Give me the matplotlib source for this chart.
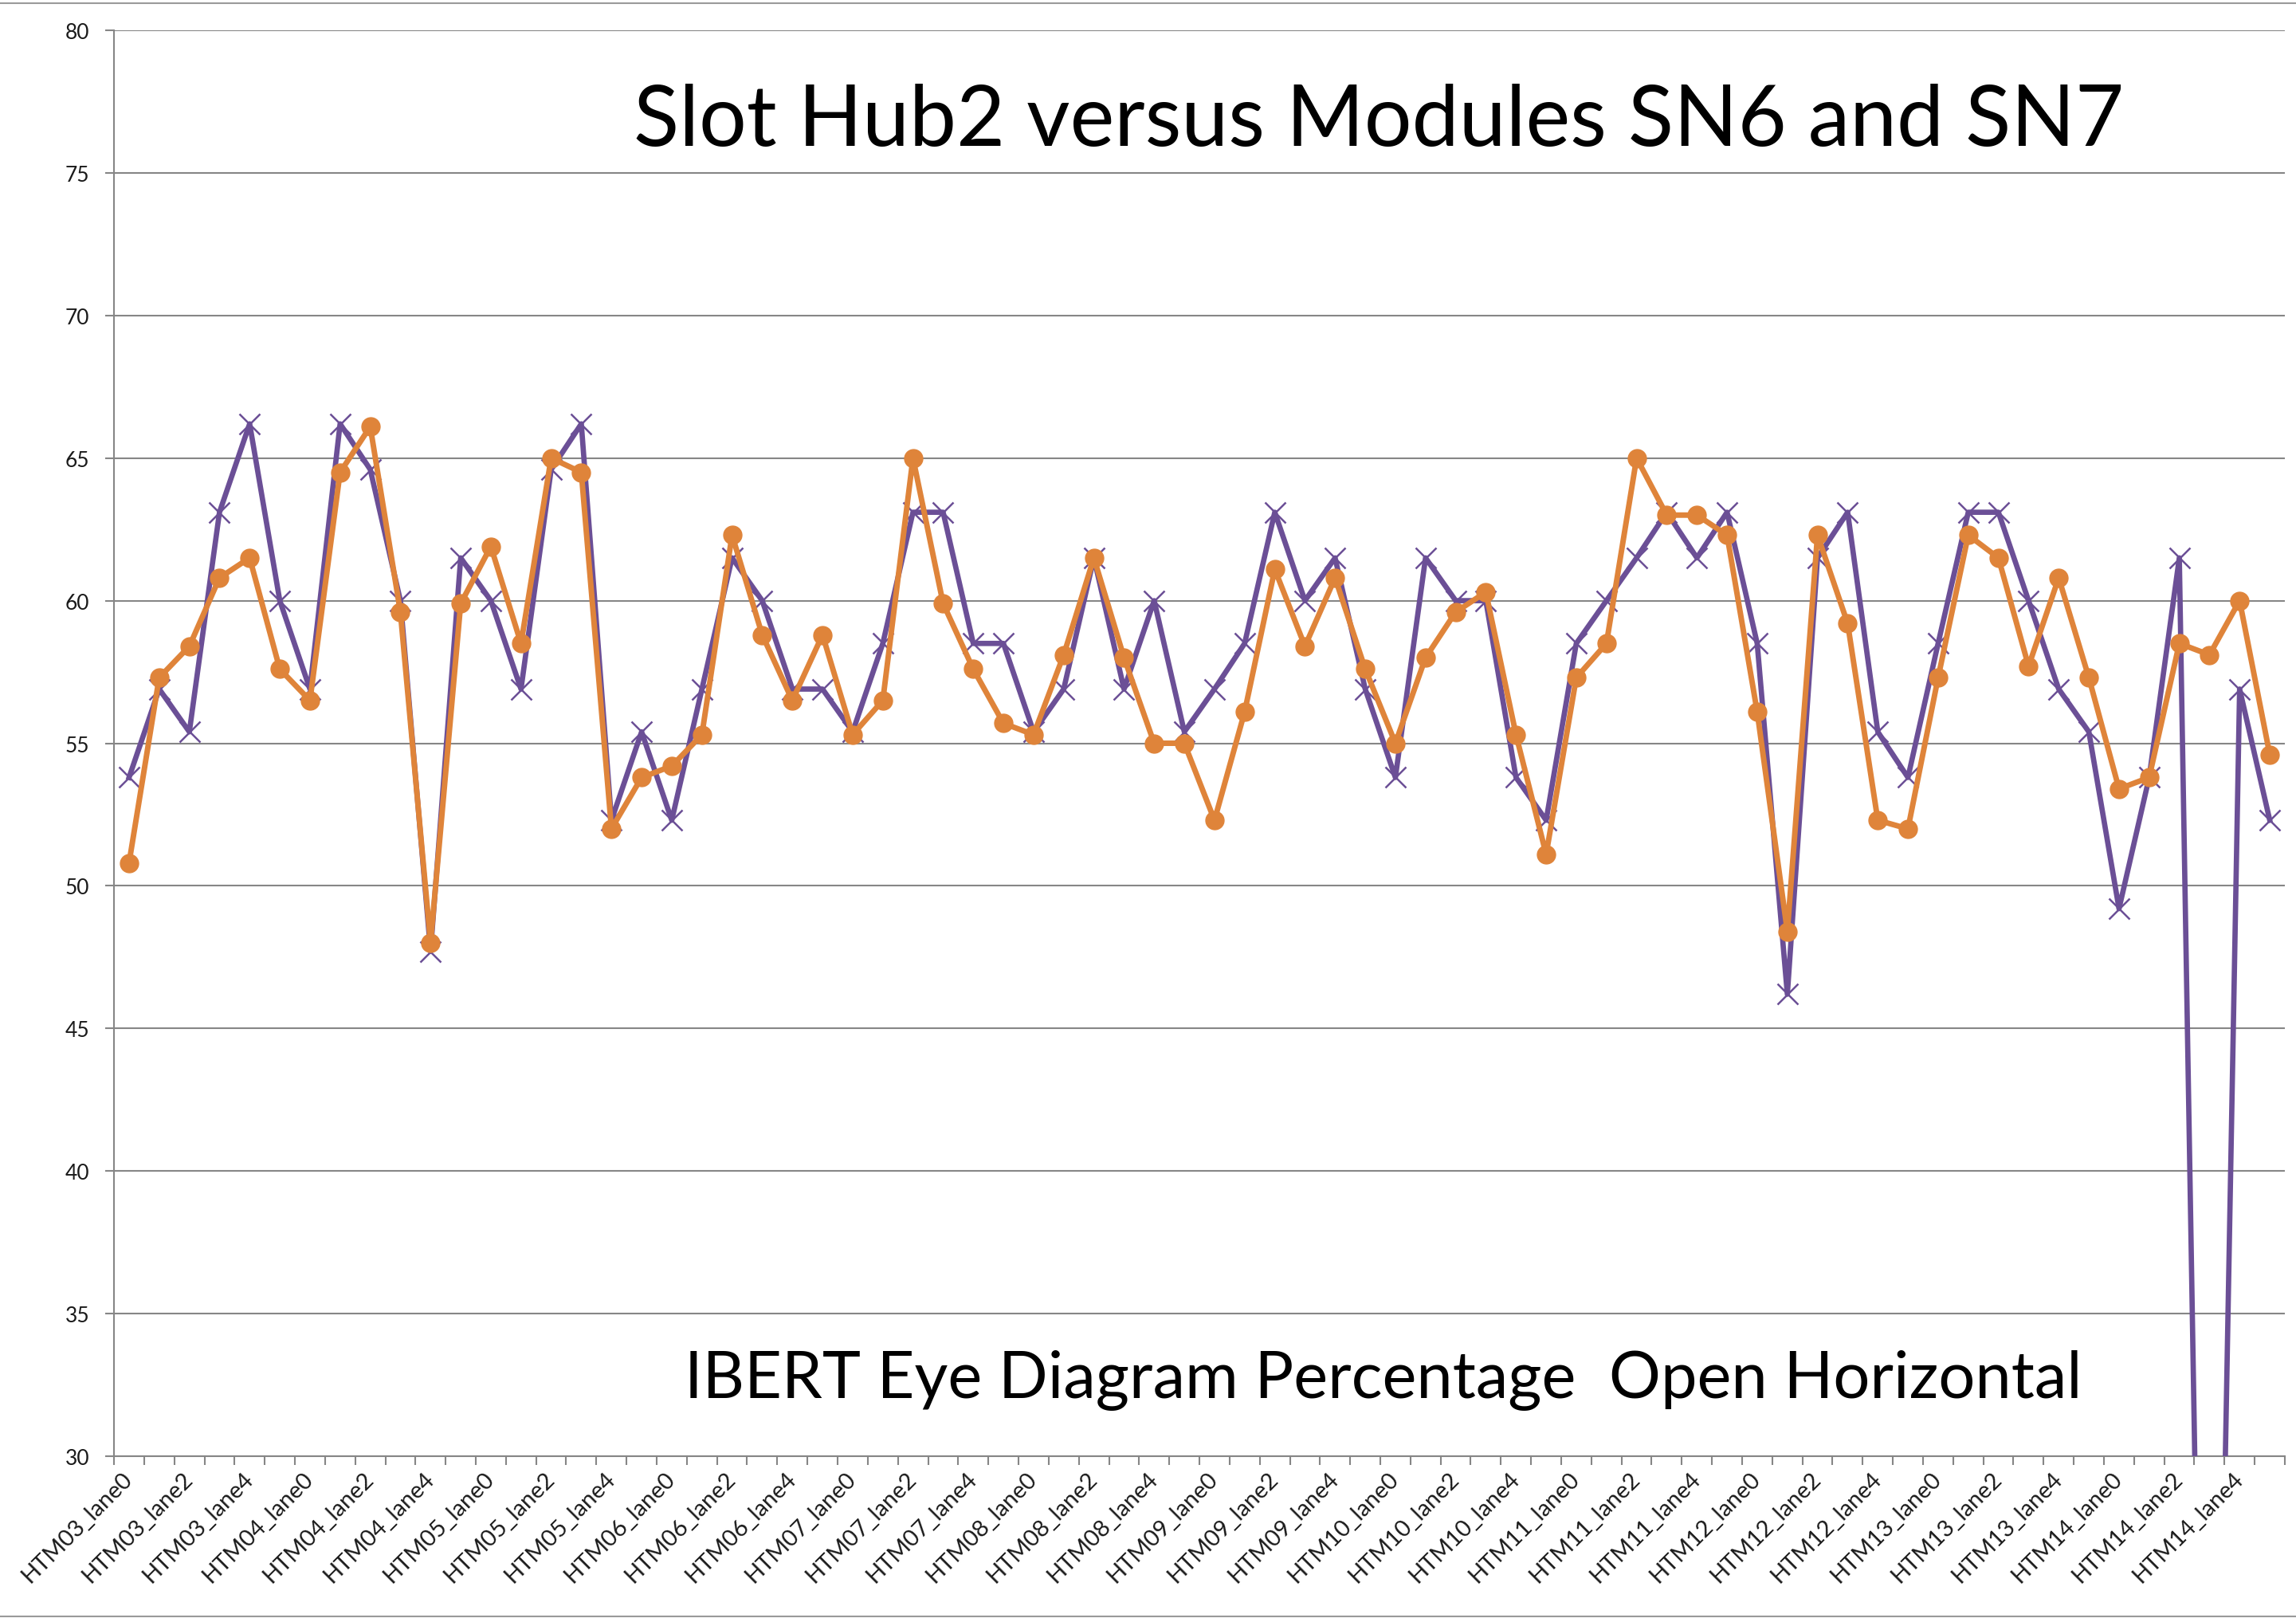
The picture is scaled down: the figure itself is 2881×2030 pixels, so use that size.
"""
Slot Hub2 versus modules SN6 and SN7: IBERT eye diagram horizontal opening
per HTM lane, redrawn as an Excel-style line chart.
"""

import matplotlib
matplotlib.use("Agg")
import matplotlib.pyplot as plt
import matplotlib.transforms as mtransforms
from matplotlib.lines import Line2D

modules = ["HTM03", "HTM04", "HTM05", "HTM06", "HTM07", "HTM08",
           "HTM09", "HTM10", "HTM11", "HTM12", "HTM13", "HTM14"]
lanes = ["lane0", "lane1", "lane2", "lane3", "lane4", "lane5"]

# purple series (x markers)
sn6_open = [
    53.8, 56.9, 55.4, 63.1, 66.2, 60.0, 56.9, 66.2, 64.6, 60.0, 47.7, 61.5,
    60.0, 56.9, 64.6, 66.2, 52.3, 55.4, 52.3, 56.9, 61.5, 60.0, 56.9, 56.9,
    55.4, 58.5, 63.1, 63.1, 58.5, 58.5, 55.4, 56.9, 61.5, 56.9, 60.0, 55.4,
    56.9, 58.5, 63.1, 60.0, 61.5, 56.9, 53.8, 61.5, 60.0, 60.0, 53.8, 52.3,
    58.5, 60.0, 61.5, 63.1, 61.5, 63.1, 58.5, 46.2, 61.5, 63.1, 55.4, 53.8,
    58.5, 63.1, 63.1, 60.0, 56.9, 55.4, 49.2, 53.8, 61.5, 0.0, 56.9, 52.3,
]

# orange series (circle markers)
sn7_open = [
    50.8, 57.3, 58.4, 60.8, 61.5, 57.6, 56.5, 64.5, 66.1, 59.6, 48.0, 59.9,
    61.9, 58.5, 65.0, 64.5, 52.0, 53.8, 54.2, 55.3, 62.3, 58.8, 56.5, 58.8,
    55.3, 56.5, 65.0, 59.9, 57.6, 55.7, 55.3, 58.1, 61.5, 58.0, 55.0, 55.0,
    52.3, 56.1, 61.1, 58.4, 60.8, 57.6, 55.0, 58.0, 59.6, 60.3, 55.3, 51.1,
    57.3, 58.5, 65.0, 63.0, 63.0, 62.3, 56.1, 48.4, 62.3, 59.2, 52.3, 52.0,
    57.3, 62.3, 61.5, 57.7, 60.8, 57.3, 53.4, 53.8, 58.5, 58.1, 60.0, 54.6,
]

y_ticks = [30, 35, 40, 45, 50, 55, 60, 65, 70, 75, 80]

title = "Slot Hub2 versus Modules SN6 and SN7"
subtitle = "IBERT Eye Diagram Percentage  Open Horizontal"

categories = [f"{m}_{l}" for m in modules for l in lanes]
x = list(range(len(categories)))

purple = "#6B4F96"
orange = "#DF843A"
grid_gray = "#868686"

plt.rcParams["font.family"] = ["Lato", "DejaVu Sans"]

fig = plt.figure(figsize=(28.81, 20.31), dpi=100)
ax = fig.add_axes([143 / 2881, 1 - 1828 / 2031, (2867 - 143) / 2881, (1828 - 39) / 2031])

ax.plot(x, sn6_open, color=purple, lw=4.8, marker="x", ms=19, mew=1.8,
        zorder=3)
ax.plot(x, sn7_open, color=orange, lw=5.0, marker="o", ms=16.5, mec=orange,
        mfc=orange, zorder=4)

ax.set_xlim(-0.5, len(categories) - 0.5)
ax.set_ylim(30, 80)
ax.set_yticks(y_ticks)
ax.set_yticklabels([str(v) for v in y_ticks], fontsize=19, color="#1a1a1a")
ax.yaxis.grid(True, color=grid_gray, lw=1.5)
ax.set_axisbelow(True)

ax.set_xticks(x[::2])
ax.set_xticklabels(categories[::2], rotation=45, ha="right", va="center",
                   rotation_mode="anchor", fontsize=21, color="#1a1a1a")
shift = mtransforms.ScaledTranslation(6 / 100, 0, fig.dpi_scale_trans)
for lab in ax.get_xticklabels():
    lab.set_transform(lab.get_transform() + shift)
ax.set_xticks([i - 0.5 for i in range(len(categories) + 1)], minor=True)
ax.tick_params(axis="x", which="major", length=0, pad=17)
ax.tick_params(axis="x", which="minor", length=8, width=1.5, color=grid_gray)
ax.tick_params(axis="y", length=8, width=1.5, color=grid_gray, pad=14)

for side in ["top", "right"]:
    ax.spines[side].set_visible(False)
for side in ["left", "bottom"]:
    ax.spines[side].set_color(grid_gray)
    ax.spines[side].set_linewidth(1.5)

fig.text(1730 / 2881, 1 - 183 / 2031, title, ha="center", va="baseline",
         fontsize=76, color="black")
fig.text(1736 / 2881, 1 - 1754 / 2031, subtitle, ha="center", va="baseline",
         fontsize=58.5, color="black")

# chart area border lines
fig.add_artist(Line2D([0, 1], [1 - 5 / 2031, 1 - 5 / 2031], color="#9a9a9a", lw=1.5))
fig.add_artist(Line2D([0, 1], [2 / 2031, 2 / 2031], color="#9a9a9a", lw=1.5))

fig.savefig("out.png", dpi=100)
